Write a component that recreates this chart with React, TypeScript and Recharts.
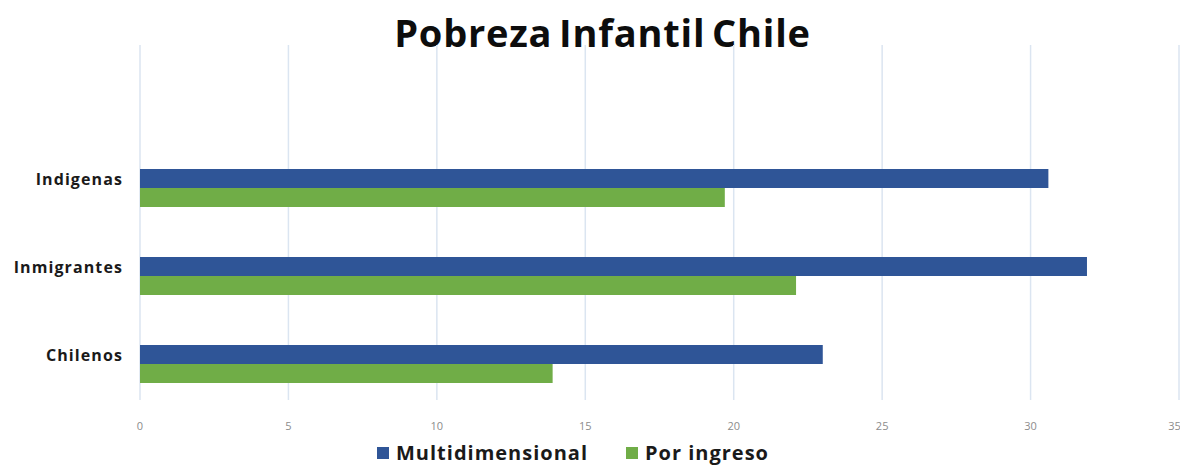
import { Bar, BarChart, CartesianGrid, Legend, XAxis, YAxis } from "recharts";

const categories = ["Indigenas", "Inmigrantes", "Chilenos"];
const multidimensional = [30.6, 31.9, 23.0];
const porIngreso = [19.7, 22.1, 13.9];
const xTicks = [0, 5, 10, 15, 20, 25, 30, 35];

const SERIES = [
  { key: "multi", name: "Multidimensional", color: "#2F5597" },
  { key: "ingreso", name: "Por ingreso", color: "#70AD47" },
];

const rows = categories.map((name, i) => ({
  name,
  multi: multidimensional[i],
  ingreso: porIngreso[i],
}));

const FONT = "'Open Sans', sans-serif";

function LegendBox() {
  return (
    <div style={{ display: "flex", gap: 38, paddingLeft: 377, paddingTop: 11, fontFamily: FONT, fontWeight: 700, fontSize: 20, letterSpacing: 1, color: "#1a1a1a", lineHeight: "24px" }}>
      {SERIES.map((s) => (
        <span key={s.key} style={{ display: "flex", alignItems: "center" }}>
          <span style={{ width: 12, height: 12, background: s.color, display: "inline-block", marginRight: 7 }} />
          {s.name}
        </span>
      ))}
    </div>
  );
}

// category labels sit a bit above the bar pair, like the original
function CategoryTick(props: any) {
  const { x, y, payload } = props;
  return (
    <text x={x} y={y - 9} dy="0.355em" textAnchor="end" fill="#1a1a1a" fontSize={16} fontWeight={700} fontFamily={FONT} letterSpacing={1.1}>
      {payload.value}
    </text>
  );
}

export default function App() {
  return (
    <div style={{ position: "absolute", left: 0, top: 0, width: 1180, height: 465, background: "#fff", overflow: "hidden" }}>
      <div style={{ position: "absolute", top: 6, left: 0, width: 1205, textAlign: "center", fontFamily: FONT, fontWeight: 700, fontSize: 38, color: "#0d0d0d", letterSpacing: 0.8, wordSpacing: -4 }}>
        Pobreza Infantil Chile
      </div>
      <BarChart
        width={1180}
        height={465}
        data={rows}
        layout="vertical"
        margin={{ top: 45, right: 1, bottom: 10, left: 0 }}
        barGap={0}
        barSize={19}
      >
        <CartesianGrid horizontal={false} stroke="#dbe5f1" strokeWidth={1.5} />
        <XAxis
          type="number"
          domain={[0, 35]}
          ticks={xTicks}
          axisLine={false}
          tickLine={false}
          height={30}
          tickMargin={16}
          tick={{ fill: "#8c8c8c", fontSize: 11, fontFamily: FONT }}
        />
        <YAxis
          type="category"
          dataKey="name"
          width={140}
          axisLine={false}
          tickLine={false}
          padding={{ top: 99, bottom: -8 }}
          tickMargin={11}
          tick={<CategoryTick />}
        />
        <Legend verticalAlign="bottom" height={25} content={() => <LegendBox />} />
        {SERIES.map((s) => (
          <Bar key={s.key} dataKey={s.key} name={s.name} fill={s.color} isAnimationActive={false} />
        ))}
      </BarChart>
    </div>
  );
}
